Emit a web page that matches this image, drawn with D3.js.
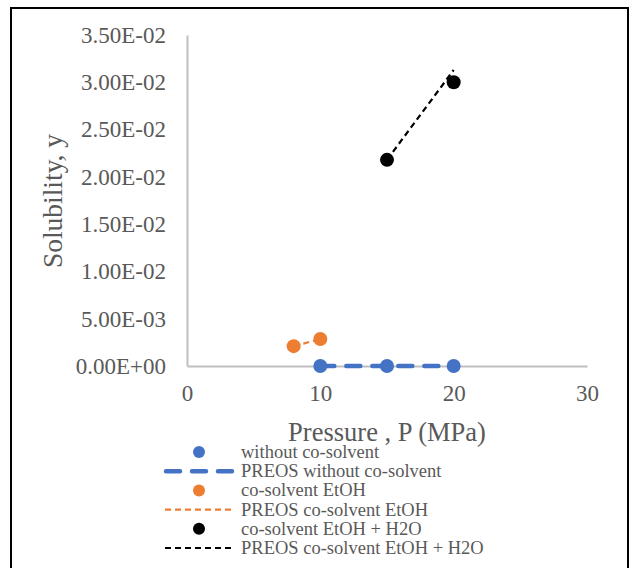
<!DOCTYPE html>
<html>
<head>
  <script src="https://cdn.jsdelivr.net/npm/d3@7/dist/d3.min.js"></script>
  <style>
    body { margin: 0; background: #fff; }
    svg { display: block; font-family: "Liberation Serif", "Times New Roman", serif; }
    .axis path, .axis line { stroke: #bfbfbf; }
    .axis text { fill: #595959; font-size: 23px; font-family: "Liberation Serif", serif; }
  </style>
</head>
<body>
  <svg class="svg" width="631" height="568"></svg>
  <script>
    // measured data
    var expNoCo = [{p: 10, y: 0}, {p: 15, y: 0}, {p: 20, y: 0}];
    var preosNoCo = [{p: 10, y: 0}, {p: 15, y: 0}, {p: 20, y: 0}];
    var expEtOH = [{p: 8, y: 0.0021}, {p: 10, y: 0.00285}];
    var preosEtOH = [{p: 8, y: 0.0021}, {p: 10, y: 0.00285}];
    var expEtOHW = [{p: 15, y: 0.0218}, {p: 20, y: 0.0300}];
    var preosEtOHW = [{p: 15, y: 0.0218}, {p: 20, y: 0.0313}];
    var xTicks = [0, 10, 20, 30];
    var yTicks = [0, 0.005, 0.01, 0.015, 0.02, 0.025, 0.03, 0.035];

    var svg = d3.select('.svg');

    // outer frame
    svg.append('rect')
      .attr('x', 11).attr('y', 8)
      .attr('width', 617).attr('height', 580)
      .attr('fill', 'none')
      .attr('stroke', '#000')
      .attr('stroke-width', 2);

    var pLeft = 187, pRight = 587, pTop = 35, pBottom = 366;

    var x = d3.scaleLinear().domain([0, 30]).range([pLeft, pRight]);
    var y = d3.scaleLinear().domain([0, 0.035]).range([pBottom, pTop]);

    var xAxis = d3.axisBottom(x)
      .tickValues(xTicks)
      .tickSize(0)
      .tickPadding(19)
      .tickFormat(d3.format('d'));

    var yAxis = d3.axisLeft(y)
      .tickValues(yTicks)
      .tickSize(0)
      .tickPadding(21)
      .tickFormat(function (d) {
        return d.toExponential(2).toUpperCase().replace(/E([+-])(\d)$/, 'E$10$2');
      });

    svg.append('g')
      .attr('class', 'x axis')
      .attr('transform', 'translate(0,' + pBottom + ')')
      .call(xAxis);

    svg.append('g')
      .attr('class', 'y axis')
      .attr('transform', 'translate(' + pLeft + ',0)')
      .call(yAxis);

    svg.selectAll('.axis path').attr('stroke-width', 2);

    var line = d3.line()
      .x(d => x(d.p))
      .y(d => y(d.y));

    // PREOS lines
    svg.append('path')
      .datum(preosNoCo)
      .attr('d', line)
      .attr('fill', 'none')
      .attr('stroke', '#4472c4')
      .attr('stroke-width', 4.5)
      .attr('stroke-linecap', 'round')
      .attr('stroke-dasharray', '14,12');

    svg.append('path')
      .datum(preosEtOH)
      .attr('d', line)
      .attr('fill', 'none')
      .attr('stroke', '#ed7d31')
      .attr('stroke-width', 2.2)
      .attr('stroke-dasharray', '6,4');

    svg.append('path')
      .datum(preosEtOHW)
      .attr('d', line)
      .attr('fill', 'none')
      .attr('stroke', '#000')
      .attr('stroke-width', 2.2)
      .attr('stroke-dasharray', '6,4');

    // experimental points
    function dots(data, color) {
      svg.append('g')
        .selectAll('circle')
        .data(data)
        .enter()
        .append('circle')
        .attr('cx', d => x(d.p))
        .attr('cy', d => y(d.y))
        .attr('r', 7)
        .attr('fill', color);
    }
    dots(expNoCo, '#4472c4');
    dots(expEtOH, '#ed7d31');
    dots(expEtOHW, '#000');

    // axis titles
    svg.append('text')
      .attr('x', 387).attr('y', 441)
      .attr('text-anchor', 'middle')
      .attr('fill', '#595959')
      .attr('font-size', 26.5)
      .text('Pressure , P (MPa)');

    svg.append('text')
      .attr('transform', 'translate(62,201) rotate(-90)')
      .attr('text-anchor', 'middle')
      .attr('fill', '#595959')
      .attr('font-size', 27.5)
      .text('Solubility, y');

    // legend
    var legendItems = [
      {label: 'without co-solvent', type: 'dot', color: '#4472c4'},
      {label: 'PREOS without co-solvent', type: 'line', color: '#4472c4', w: 4.5, dash: '14,12'},
      {label: 'co-solvent EtOH', type: 'dot', color: '#ed7d31'},
      {label: 'PREOS co-solvent EtOH', type: 'line', color: '#ed7d31', w: 2.2, dash: '6,4'},
      {label: 'co-solvent EtOH + H2O', type: 'dot', color: '#000'},
      {label: 'PREOS co-solvent EtOH + H2O', type: 'line', color: '#000', w: 2.2, dash: '6,4'}
    ];

    var lg = svg.append('g').attr('class', 'legend');
    var rows = lg.selectAll('g')
      .data(legendItems)
      .enter()
      .append('g')
      .attr('transform', (d, i) => 'translate(0,' + (452 + i * 19.2) + ')');

    rows.filter(d => d.type === 'dot')
      .append('circle')
      .attr('cx', 199).attr('cy', 0).attr('r', 6)
      .attr('fill', d => d.color);

    rows.filter(d => d.type === 'line')
      .append('line')
      .attr('x1', d => d.w > 3 ? 166 : 165)
      .attr('x2', 234)
      .attr('y1', 0).attr('y2', 0)
      .attr('stroke', d => d.color)
      .attr('stroke-width', d => d.w)
      .attr('stroke-linecap', d => d.w > 3 ? 'round' : 'butt')
      .attr('stroke-dasharray', d => d.dash);

    rows.append('text')
      .attr('x', 241).attr('y', 6)
      .attr('fill', '#595959')
      .attr('font-size', 18.5)
      .text(d => d.label);
  </script>
</body>
</html>
